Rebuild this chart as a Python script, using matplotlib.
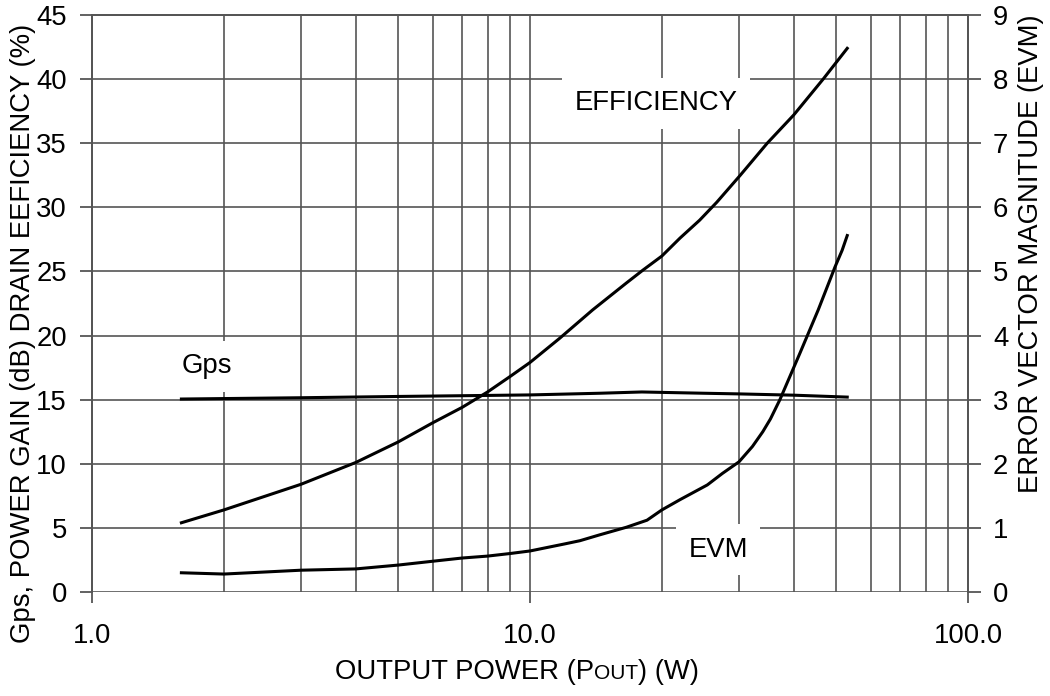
import matplotlib
matplotlib.use("Agg")
import matplotlib.pyplot as plt
from matplotlib.offsetbox import TextArea, HPacker, AnchoredOffsetbox
from matplotlib.ticker import FixedLocator, NullFormatter

plt.rcParams['font.family'] = ['Liberation Sans', 'DejaVu Sans']

# values
pout_eff = [1.6, 2, 3, 4, 5, 6, 7, 8, 9, 10, 11.7, 13.9, 16.6, 18.1, 20, 22,
            24.4, 26.7, 30.2, 34.8, 40, 46.7, 53]
efficiency = [5.4, 6.4, 8.4, 10.1, 11.7, 13.2, 14.4, 15.6, 16.8, 17.9, 19.8,
              22.0, 24.1, 25.1, 26.2, 27.6, 29.0, 30.4, 32.5, 35.0, 37.2,
              40.0, 42.4]

pout_gps = [1.6, 3, 5, 10, 14.4, 18, 25, 30, 40, 53]
gps = [15.05, 15.15, 15.25, 15.37, 15.5, 15.6, 15.5, 15.45, 15.35, 15.2]

pout_evm = [1.6, 2, 3, 4, 5, 6, 7, 8, 9, 10, 12, 13, 14.4, 16.6, 18.5, 20,
            22, 25.4, 27.5, 30, 32.2, 34, 35.4, 37.2, 41.3, 45.5, 49.7, 51.6,
            53]
evm = [0.30, 0.28, 0.34, 0.36, 0.42, 0.48, 0.53, 0.56, 0.60, 0.64, 0.75, 0.80,
       0.89, 1.01, 1.12, 1.28, 1.44, 1.67, 1.85, 2.03, 2.27, 2.5, 2.7, 3.0,
       3.72, 4.4, 5.07, 5.33, 5.56]

left_ticks = [0, 5, 10, 15, 20, 25, 30, 35, 40, 45]
right_ticks = [0, 1, 2, 3, 4, 5, 6, 7, 8, 9]
x_major = [1, 10, 100]
x_minor = [2, 3, 4, 5, 6, 7, 8, 9, 20, 30, 40, 50, 60, 70, 80, 90]

FS = 19.8
GRID = '#555555'

fig = plt.figure(figsize=(10.5, 6.96), dpi=100)
ax = fig.add_axes([92 / 1050, 1 - 592 / 696, 876 / 1050, 577 / 696])
ax2 = ax.twinx()

ax.set_xscale('log')
ax.set_xlim(1, 100)
ax.set_ylim(0, 45)
ax2.set_ylim(0, 9)

ax.xaxis.set_major_locator(FixedLocator(x_major))
ax.xaxis.set_minor_locator(FixedLocator(x_minor))
ax.xaxis.set_minor_formatter(NullFormatter())
ax.set_xticklabels(['1.0', '10.0', '100.0'])
ax.set_yticks(left_ticks)
ax2.set_yticks(right_ticks)

ax.grid(True, which='both', axis='x', color=GRID, lw=1.2)
ax.grid(True, which='major', axis='y', color=GRID, lw=1.2)
ax.set_axisbelow(True)

ax.tick_params(axis='x', which='major', direction='out', length=8, width=1.3,
               color=GRID, labelsize=FS, pad=14)
ax.tick_params(axis='x', which='minor', length=0)
ax.tick_params(axis='y', direction='out', length=9, width=1.3, color=GRID,
               labelsize=FS, pad=9)
ax2.tick_params(axis='y', direction='out', length=9, width=1.3, color=GRID,
                labelsize=FS, pad=9)

for a in (ax, ax2):
    for s in a.spines.values():
        s.set_color(GRID)
        s.set_linewidth(1.3)
    a.spines['bottom'].set_visible(False)

ax.plot(pout_eff, efficiency, color='black', lw=2.2, zorder=3)
ax.plot(pout_gps, gps, color='black', lw=2.2, zorder=3)
ax2.plot(pout_evm, evm, color='black', lw=2.2, zorder=3)

box = dict(facecolor='white', edgecolor='none', boxstyle='square,pad=0.45')
ax.text(1.6, 17.6, 'Gps', fontsize=FS, ha='left', va='center', bbox=box,
        zorder=2)
ax.text(19.4, 38.1, 'EFFICIENCY', fontsize=FS, ha='center', va='center',
        bbox=box, zorder=2)
ax.text(26.9, 3.3, 'EVM', fontsize=FS, ha='center', va='center', bbox=box,
        zorder=2)

ax.set_ylabel('Gps, POWER GAIN (dB) DRAIN EEFICIENCY (%)', fontsize=FS)
ax.yaxis.set_label_coords(-0.064, 0.449)
ax2.set_ylabel('ERROR VECTOR MAGNITUDE (EVM)', fontsize=FS)
ax2.yaxis.set_label_coords(1.057, 0.586)

# x label with small-caps "OUT"
parts = [TextArea('OUTPUT POWER (P', textprops=dict(fontsize=FS)),
         TextArea('OUT', textprops=dict(fontsize=FS * 0.76)),
         TextArea(') (W)', textprops=dict(fontsize=FS))]
label = HPacker(children=parts, align='baseline', pad=0, sep=0)
anchored = AnchoredOffsetbox(loc='center', child=label, pad=0, borderpad=0,
                             frameon=False, bbox_to_anchor=(0.485, -0.139),
                             bbox_transform=ax.transAxes)
ax.add_artist(anchored)

fig.savefig('out.png', dpi=100)
